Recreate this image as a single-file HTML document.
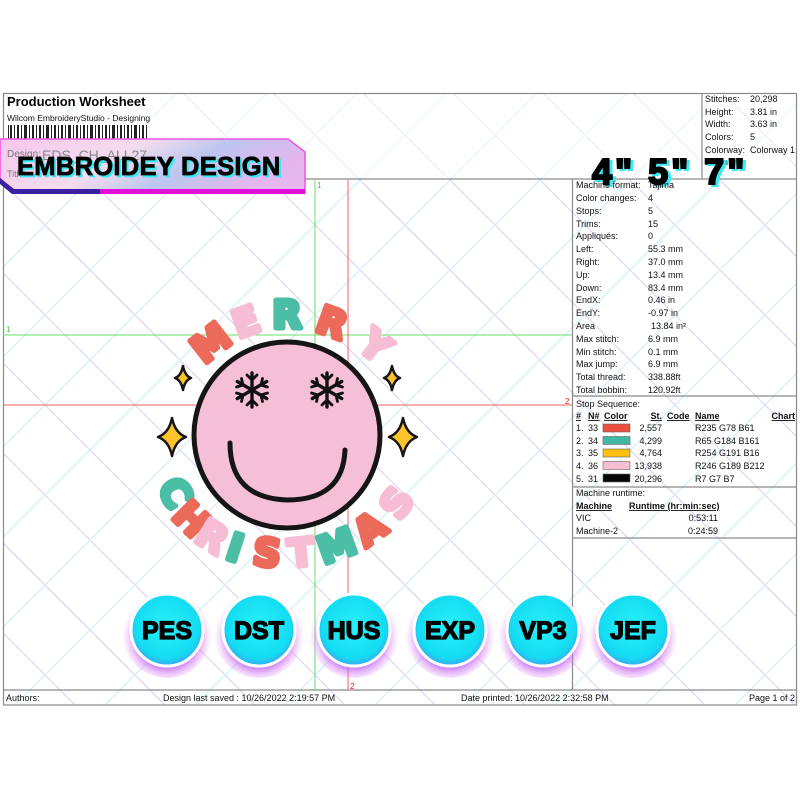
<!DOCTYPE html>
<html><head><meta charset="utf-8"><style>
html,body{margin:0;padding:0;background:#fff;}
svg{display:block;font-family:"Liberation Sans",Arial,sans-serif;}
.t{font-size:9px;fill:#111;}
.u{font-size:9px;fill:#111;font-weight:bold;text-decoration:underline;}
</style></head><body>
<svg width="800" height="800" viewBox="0 0 800 800">
<defs>
<pattern id="bg" width="90" height="90" patternUnits="userSpaceOnUse">
<path d="M0 0L90 90M-45 45L45 135M45 -45L135 45" stroke="#e4dbf6" stroke-width="1.5"/>
<path d="M90 0L0 90M45 -45L-45 45M135 45L45 135" stroke="#d9f1f8" stroke-width="1.5"/>
</pattern>
<linearGradient id="ban" x1="0" x2="1" y1="0" y2="0.3">
<stop offset="0" stop-color="#f6c8ee"/><stop offset="0.45" stop-color="#f4dcef"/><stop offset="0.7" stop-color="#bcc6f0"/><stop offset="1" stop-color="#e6b6ee"/>
</linearGradient>
<radialGradient id="btn" cx="0.5" cy="0.45" r="0.55">
<stop offset="0" stop-color="#2af0f8"/><stop offset="0.8" stop-color="#14dcf2"/><stop offset="1" stop-color="#3aa8f0"/>
</radialGradient>
<radialGradient id="glow" cx="0.5" cy="0.55" r="0.5">
<stop offset="0.7" stop-color="#c060f0" stop-opacity="0.7"/><stop offset="1" stop-color="#f0a0f8" stop-opacity="0"/>
</radialGradient>
<g id="flake" stroke="#111" stroke-width="3.4" stroke-linecap="round" fill="none">
<path d="M0 -17V17M-14.7 -8.5L14.7 8.5M-14.7 8.5L14.7 -8.5"/>
<path d="M-5 -15L0 -10L5 -15M-5 15L0 10L5 15M-15.5 -3L-9 -5L-10.5 -11.5M15.5 3L9 5L10.5 11.5M-15.5 3L-9 5L-10.5 11.5M15.5 -3L9 -5L10.5 -11.5" stroke-width="2.8"/>
</g>
</defs>
<rect x="3" y="93" width="794" height="612" fill="url(#bg)"/>
<rect x="3" y="93" width="794" height="86" fill="#fff" fill-opacity="0.55"/>
<g stroke="#8a8a8a" stroke-width="1.2" fill="none">
<rect x="3.5" y="93.5" width="793" height="611.5"/>
<line x1="3" y1="179" x2="797" y2="179"/>
<line x1="702" y1="93" x2="702" y2="179"/>
<line x1="572.5" y1="179" x2="572.5" y2="690"/>
<line x1="3" y1="690" x2="797" y2="690"/>
<line x1="572" y1="396" x2="797" y2="396"/>
<line x1="572" y1="487" x2="797" y2="487"/>
<line x1="572" y1="538" x2="797" y2="538"/>
</g>
<line x1="315" y1="180" x2="315" y2="690" stroke="#66e066" stroke-width="1"/>
<line x1="3" y1="335" x2="572" y2="335" stroke="#66e066" stroke-width="1"/>
<line x1="348" y1="180" x2="348" y2="690" stroke="#f06060" stroke-width="1"/>
<line x1="3" y1="405" x2="572" y2="405" stroke="#f06060" stroke-width="1"/>
<text x="317" y="188" font-size="8" fill="#33cc33">1</text>
<text x="6" y="332" font-size="8" fill="#33cc33">1</text>
<text x="565" y="404" font-size="8" fill="#e02020">2</text>
<text x="350" y="689" font-size="8" fill="#e02020">2</text>
<text x="7" y="106" font-size="13" font-weight="bold" fill="#000">Production Worksheet</text>
<text x="7" y="121" font-size="8.5" fill="#111">Wilcom EmbroideryStudio - Designing</text>
<g fill="#222">
<rect x="8" y="125" width="1" height="16"/><rect x="10" y="125" width="2" height="16"/><rect x="14" y="125" width="1" height="16"/><rect x="17" y="125" width="2" height="16"/><rect x="21" y="125" width="1" height="16"/><rect x="24" y="125" width="3" height="16"/><rect x="29" y="125" width="1" height="16"/><rect x="32" y="125" width="2" height="16"/><rect x="36" y="125" width="1" height="16"/><rect x="39" y="125" width="2" height="16"/><rect x="43" y="125" width="1" height="16"/><rect x="46" y="125" width="3" height="16"/><rect x="51" y="125" width="1" height="16"/><rect x="54" y="125" width="2" height="16"/><rect x="58" y="125" width="1" height="16"/><rect x="61" y="125" width="2" height="16"/><rect x="65" y="125" width="1" height="16"/><rect x="68" y="125" width="3" height="16"/><rect x="73" y="125" width="1" height="16"/><rect x="76" y="125" width="2" height="16"/><rect x="80" y="125" width="1" height="16"/><rect x="83" y="125" width="2" height="16"/><rect x="87" y="125" width="1" height="16"/><rect x="90" y="125" width="3" height="16"/><rect x="95" y="125" width="1" height="16"/><rect x="98" y="125" width="2" height="16"/><rect x="102" y="125" width="1" height="16"/><rect x="105" y="125" width="2" height="16"/><rect x="109" y="125" width="1" height="16"/><rect x="112" y="125" width="3" height="16"/><rect x="117" y="125" width="1" height="16"/><rect x="120" y="125" width="2" height="16"/><rect x="124" y="125" width="1" height="16"/><rect x="127" y="125" width="2" height="16"/><rect x="131" y="125" width="1" height="16"/><rect x="134" y="125" width="3" height="16"/><rect x="139" y="125" width="1" height="16"/><rect x="142" y="125" width="2" height="16"/><rect x="146" y="125" width="1" height="16"/>
</g>
<polygon points="0,139 288,139 305,152 305,193 14,193 0,178" fill="url(#ban)" stroke="#f050e0" stroke-width="1.5"/>
<polygon points="14,189 305,189 305,194 18,194" fill="#e010d8"/>
<polygon points="0,178 14,189 100,189 100,194 12,194 0,184" fill="#3a20a0"/>
<text x="7" y="157" font-size="10" fill="#777">Design:</text>
<text x="42" y="160" font-size="14" fill="#888">EDS_CH_ALL27</text>
<text x="7" y="177" font-size="9" fill="#777">Title:</text>
<text x="19" y="177" font-size="25.5" font-weight="bold" fill="#3ee8f0" stroke="#3ee8f0" stroke-width="0.8" letter-spacing="0.3">EMBROIDEY DESIGN</text>
<text x="17" y="175" font-size="25.5" font-weight="bold" fill="#000" stroke="#000" stroke-width="0.8" letter-spacing="0.3">EMBROIDEY DESIGN</text>
<g>
<text x="705" y="102" class="t">Stitches:</text><text x="750" y="102" class="t">20,298</text>
<text x="705" y="115" class="t">Height:</text><text x="750" y="115" class="t">3.81 in</text>
<text x="705" y="127" class="t">Width:</text><text x="750" y="127" class="t">3.63 in</text>
<text x="705" y="140" class="t">Colors:</text><text x="750" y="140" class="t">5</text>
<text x="705" y="153" class="t">Colorway:</text><text x="750" y="153" class="t">Colorway 1</text>
<text x="705" y="165" class="t">Zoom:</text>
</g>
<text x="595" y="186" font-size="36" font-weight="bold" fill="#3ee8f0" stroke="#3ee8f0" stroke-width="2" letter-spacing="3">4" 5" 7"</text>
<text x="592" y="184" font-size="36" font-weight="bold" fill="#000" stroke="#000" stroke-width="2" letter-spacing="3">4" 5" 7"</text>
<g>
<text x="576" y="188" class="t">Machine format:</text><text x="648" y="188" class="t">Tajima</text>
<text x="576" y="201" class="t">Color changes:</text><text x="648" y="201" class="t">4</text>
<text x="576" y="214" class="t">Stops:</text><text x="648" y="214" class="t">5</text>
<text x="576" y="227" class="t">Trims:</text><text x="648" y="227" class="t">15</text>
<text x="576" y="239" class="t">Appliqués:</text><text x="648" y="239" class="t">0</text>
<text x="576" y="252" class="t">Left:</text><text x="648" y="252" class="t">55.3 mm</text>
<text x="576" y="265" class="t">Right:</text><text x="648" y="265" class="t">37.0 mm</text>
<text x="576" y="278" class="t">Up:</text><text x="648" y="278" class="t">13.4 mm</text>
<text x="576" y="291" class="t">Down:</text><text x="648" y="291" class="t">83.4 mm</text>
<text x="576" y="303" class="t">EndX:</text><text x="648" y="303" class="t">0.46 in</text>
<text x="576" y="316" class="t">EndY:</text><text x="648" y="316" class="t">-0.97 in</text>
<text x="576" y="329" class="t">Area</text><text x="651" y="329" class="t">13.84 in²</text>
<text x="576" y="342" class="t">Max stitch:</text><text x="648" y="342" class="t">6.9 mm</text>
<text x="576" y="355" class="t">Min stitch:</text><text x="648" y="355" class="t">0.1 mm</text>
<text x="576" y="367" class="t">Max jump:</text><text x="648" y="367" class="t">6.9 mm</text>
<text x="576" y="380" class="t">Total thread:</text><text x="648" y="380" class="t">338.88ft</text>
<text x="576" y="393" class="t">Total bobbin:</text><text x="648" y="393" class="t">120.92ft</text>
<text x="576" y="407" class="t">Stop Sequence:</text>
</g>
<text x="576" y="419" class="u">#</text><text x="588" y="419" class="u">N#</text><text x="604" y="419" class="u">Color</text>
<text x="662" y="419" class="u" text-anchor="end">St.</text><text x="667" y="419" class="u">Code</text><text x="695" y="419" class="u">Name</text><text x="795" y="419" class="u" text-anchor="end">Chart</text>
<g stroke="#666" stroke-width="0.6">
<rect x="603" y="424" width="27" height="8" fill="#eb4e3d"/>
<rect x="603" y="436.5" width="27" height="8" fill="#41b8a1"/>
<rect x="603" y="449" width="27" height="8" fill="#febf10"/>
<rect x="603" y="461.5" width="27" height="8" fill="#f6bdd4"/>
<rect x="603" y="474" width="27" height="8" fill="#070707"/>
</g>
<g>
<text x="576" y="431" class="t">1.</text><text x="588" y="431" class="t">33</text><text x="662" y="431" class="t" text-anchor="end">2,557</text><text x="695" y="431" class="t">R235 G78 B61</text>
<text x="576" y="444" class="t">2.</text><text x="588" y="444" class="t">34</text><text x="662" y="444" class="t" text-anchor="end">4,299</text><text x="695" y="444" class="t">R65 G184 B161</text>
<text x="576" y="456" class="t">3.</text><text x="588" y="456" class="t">35</text><text x="662" y="456" class="t" text-anchor="end">4,764</text><text x="695" y="456" class="t">R254 G191 B16</text>
<text x="576" y="469" class="t">4.</text><text x="588" y="469" class="t">36</text><text x="662" y="469" class="t" text-anchor="end">13,938</text><text x="695" y="469" class="t">R246 G189 B212</text>
<text x="576" y="482" class="t">5.</text><text x="588" y="482" class="t">31</text><text x="662" y="482" class="t" text-anchor="end">20,296</text><text x="695" y="482" class="t">R7 G7 B7</text>
<text x="576" y="496" class="t">Machine runtime:</text>
<text x="576" y="521" class="t">VIC</text><text x="718" y="521" class="t" text-anchor="end">0:53:11</text>
<text x="576" y="534" class="t">Machine-2</text><text x="718" y="534" class="t" text-anchor="end">0:24:59</text>
</g>
<text x="576" y="509" class="u">Machine</text><text x="629" y="509" class="u">Runtime (hr:min:sec)</text>
<circle cx="287" cy="435" r="93" fill="#f5c0d6" stroke="#151515" stroke-width="5"/>
<use href="#flake" x="252" y="390"/>
<use href="#flake" x="327" y="390"/>
<path d="M230 443 Q230 498 287 500 Q343 500 345 450" fill="none" stroke="#151515" stroke-width="5" stroke-linecap="round"/>
<g fill="#fcc42a" stroke="#151515" stroke-width="2.5" stroke-linejoin="round">
<path d="M183 366 Q185 376 191 378 Q185 380 183 390 Q181 380 175 378 Q181 376 183 366Z"/>
<path d="M392 366 Q394 376 400 378 Q394 380 392 390 Q390 380 384 378 Q390 376 392 366Z"/>
<path d="M172 418 Q175 433 186 437 Q175 441 172 456 Q169 441 158 437 Q169 433 172 418Z"/>
<path d="M403 418 Q406 433 417 437 Q406 441 403 456 Q400 441 389 437 Q400 433 403 418Z"/>
</g>
<g font-size="38" font-weight="bold" text-anchor="middle" dominant-baseline="central" stroke-width="5" stroke-linejoin="round" paint-order="stroke" font-family="'DejaVu Sans','Liberation Sans',sans-serif">
<text transform="translate(211,343) rotate(-38)" fill="#eb6a5a" stroke="#eb6a5a">M</text>
<text transform="translate(246,322) rotate(-20)" fill="#f6bdd4" stroke="#f6bdd4">E</text>
<text transform="translate(287,315) rotate(0)" fill="#4cbea6" stroke="#4cbea6">R</text>
<text transform="translate(332,323) rotate(20)" fill="#eb6a5a" stroke="#eb6a5a">R</text>
<text transform="translate(375,346) rotate(38)" fill="#f6bdd4" stroke="#f6bdd4">Y</text>
<text transform="translate(175,493) rotate(60)" fill="#4cbea6" stroke="#4cbea6">C</text>
<text transform="translate(191,519) rotate(45)" fill="#eb6a5a" stroke="#eb6a5a">H</text>
<text transform="translate(212,537) rotate(32)" fill="#f6bdd4" stroke="#f6bdd4">R</text>
<text transform="translate(235,548) rotate(18)" fill="#4cbea6" stroke="#4cbea6">I</text>
<text transform="translate(267,553) rotate(7)" fill="#eb6a5a" stroke="#eb6a5a">S</text>
<text transform="translate(301,553) rotate(-6)" fill="#f6bdd4" stroke="#f6bdd4">T</text>
<text transform="translate(337,546) rotate(-20)" fill="#4cbea6" stroke="#4cbea6">M</text>
<text transform="translate(370,529) rotate(-36)" fill="#eb6a5a" stroke="#eb6a5a">A</text>
<text transform="translate(397,503) rotate(-55)" fill="#f6bdd4" stroke="#f6bdd4">S</text>
</g>
<g font-size="25" font-weight="bold" text-anchor="middle" font-family="'Liberation Sans',sans-serif" stroke="#000" stroke-width="1.3">
<g transform="translate(167,630)"><circle r="45" cy="3" fill="url(#glow)" stroke="none"/><circle r="36" fill="url(#btn)" stroke="#fff" stroke-width="3"/><text y="9" fill="#000">PES</text></g>
<g transform="translate(259,630)"><circle r="45" cy="3" fill="url(#glow)" stroke="none"/><circle r="36" fill="url(#btn)" stroke="#fff" stroke-width="3"/><text y="9" fill="#000">DST</text></g>
<g transform="translate(354,630)"><circle r="45" cy="3" fill="url(#glow)" stroke="none"/><circle r="36" fill="url(#btn)" stroke="#fff" stroke-width="3"/><text y="9" fill="#000">HUS</text></g>
<g transform="translate(450,630)"><circle r="45" cy="3" fill="url(#glow)" stroke="none"/><circle r="36" fill="url(#btn)" stroke="#fff" stroke-width="3"/><text y="9" fill="#000">EXP</text></g>
<g transform="translate(543,630)"><circle r="45" cy="3" fill="url(#glow)" stroke="none"/><circle r="36" fill="url(#btn)" stroke="#fff" stroke-width="3"/><text y="9" fill="#000">VP3</text></g>
<g transform="translate(633,630)"><circle r="45" cy="3" fill="url(#glow)" stroke="none"/><circle r="36" fill="url(#btn)" stroke="#fff" stroke-width="3"/><text y="9" fill="#000">JEF</text></g>
</g>
<text x="6" y="701" class="t">Authors:</text>
<text x="163" y="701" class="t">Design last saved : 10/26/2022 2:19:57 PM</text>
<text x="461" y="701" class="t">Date printed: 10/26/2022 2:32:58 PM</text>
<text x="795" y="701" class="t" text-anchor="end">Page 1 of 2</text>
</svg>
</body></html>
